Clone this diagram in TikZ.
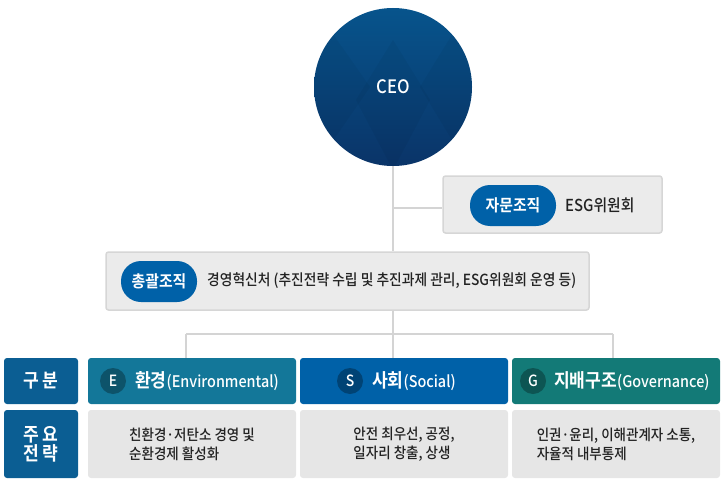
\documentclass[tikz,border=0pt]{standalone}
\usepackage{fontspec}
\setmainfont{Noto Sans CJK KR Medium}[FakeStretch=0.9,BoldFont={Noto Sans CJK KR Bold}]
\definecolor{linec}{HTML}{D4D4D4}
\definecolor{boxgray}{HTML}{EBEBEB}
\definecolor{boxborder}{HTML}{D6D6D6}
\definecolor{pillc}{HTML}{0061A8}
\definecolor{envc}{HTML}{137799}
\definecolor{socc}{HTML}{0061A8}
\definecolor{govc}{HTML}{137A77}
\definecolor{labc}{HTML}{0B5E93}
\definecolor{cellgray}{HTML}{E6E6E6}
\definecolor{ceoA}{HTML}{07548C}
\definecolor{ceoB}{HTML}{0A3468}
\definecolor{txtc}{HTML}{222222}
\begin{document}
\begin{tikzpicture}[x=1pt,y=-1pt,
  conn/.style={draw=linec,line width=2pt},
  graybox/.style={rectangle,rounded corners=2.5pt,fill=boxgray,draw=boxborder,line width=1.5pt,inner sep=0pt},
  pillbox/.style={rectangle,rounded corners=20pt,fill=pillc,text=white,inner sep=0pt,minimum height=41pt,font=\fontsize{16.5}{19}\selectfont\bfseries},
  ceostyle/.style={circle,minimum size=158pt,inner sep=0pt,top color=ceoA,bottom color=ceoB},
  headbox/.style={rectangle,rounded corners=3pt,minimum width=208pt,minimum height=46pt,inner sep=0pt},
  cellbox/.style={rectangle,rounded corners=3pt,fill=cellgray,minimum width=208pt,minimum height=68pt,inner sep=0pt,align=left,text=txtc,font=\fontsize{15}{19}\selectfont},
  labbox/.style={rectangle,rounded corners=3pt,fill=labc,minimum width=74pt,inner sep=0pt,align=center,text=white,font=\fontsize{19}{22}\selectfont\bfseries},
  badge/.style={circle,fill=black,fill opacity=0.3,text opacity=1,text=white,minimum size=26pt,inner sep=0pt,font=\fontsize{15.5}{16}\selectfont},
  headtxt/.style={anchor=west,text=white,inner sep=0pt},
  facet/.style={fill=black,fill opacity=0.04,draw=none},
]
\useasboundingbox (0,0) rectangle (725,487);
% nodes
\node[ceostyle] (ceo) at (393,87) {};
\begin{scope}
  \clip (ceo.center) circle (79);
  \path[facet] (330,30) -- (370,87) -- (330,145) -- (290,87) -- cycle;
  \path[facet] (393,40) -- (430,100) -- (393,170) -- (356,100) -- cycle;
  \path[facet] (455,30) -- (490,87) -- (455,145) -- (420,87) -- cycle;
\end{scope}
\node[text=white,font=\fontsize{18.5}{22}\selectfont] (ceotxt) at (ceo.center) {CEO};
\node[graybox,minimum width=219pt,minimum height=57pt] (adv) at (552.5,204.5) {};
\node[pillbox,minimum width=86pt] (advpill) at (513,205.5) {자문조직};
\node[anchor=west,inner sep=0pt,text=txtc,font=\fontsize{16.5}{19}\selectfont] (advtxt) at (565,205.5) {ESG위원회};
\node[graybox,minimum width=483pt,minimum height=58pt] (hq) at (347.5,281) {};
\node[pillbox,minimum width=76pt] (hqpill) at (159,281.5) {총괄조직};
\node[anchor=west,inner sep=0pt,text=txtc,font=\fontsize{15.3}{18}\selectfont] (hqtxt) at (207,281) {경영혁신처 (추진전략 수립 및 추진과제 관리, ESG위원회 운영 등)};
% header row
\node[labbox,minimum height=46pt] (lab1) at (41,381) {구 분};
\node[labbox,minimum height=68pt] (lab2) at (41,444) {주 요\\[-3pt]전 략};
\node[headbox,fill=envc] (env) at (192,381) {};
\node[headbox,fill=socc] (soc) at (404,381) {};
\node[headbox,fill=govc] (gov) at (616,381) {};
\node[badge] (eb) at (113,381) {E};
\node[badge] (sb) at (350,381) {S};
\node[badge] (gb) at (533,381) {G};
\node[headtxt] (et) at (135,381) {\fontsize{19}{20}\selectfont\bfseries 환경\fontsize{16}{20}\selectfont\mdseries(Environmental)};
\node[headtxt] (st) at (372,381) {\fontsize{19}{20}\selectfont\bfseries 사회\fontsize{16}{20}\selectfont\mdseries(Social)};
\node[headtxt] (gt) at (554,381) {\fontsize{19}{20}\selectfont\bfseries 지배구조\fontsize{16}{20}\selectfont\mdseries(Governance)};
% strategy row
\node[cellbox] (envd) at (192,444) {친환경·저탄소 경영 및\\순환경제 활성화};
\node[cellbox] (socd) at (404,444) {안전 최우선, 공정,\\일자리 창출, 상생};
\node[cellbox] (govd) at (616,444) {인권·윤리, 이해관계자 소통,\\자율적 내부통제};
% connectors
\coordinate (advj) at (393,208);
\coordinate (bus) at (393,334);
\coordinate (busE) at (186,334);
\coordinate (busG) at (613,334);
\draw[conn] (ceo.south) -- (ceo.south |- hq.north);
\draw[conn] (advj) -- (advj -| adv.west);
\draw[conn] (ceo.south |- hq.south) -- (bus);
\draw[conn] (busE) -- (busG);
\draw[conn] (busE) -- (busE |- env.north);
\draw[conn] (bus) -- (bus |- soc.north);
\draw[conn] (busG) -- (busG |- gov.north);
\end{tikzpicture}
\end{document}
